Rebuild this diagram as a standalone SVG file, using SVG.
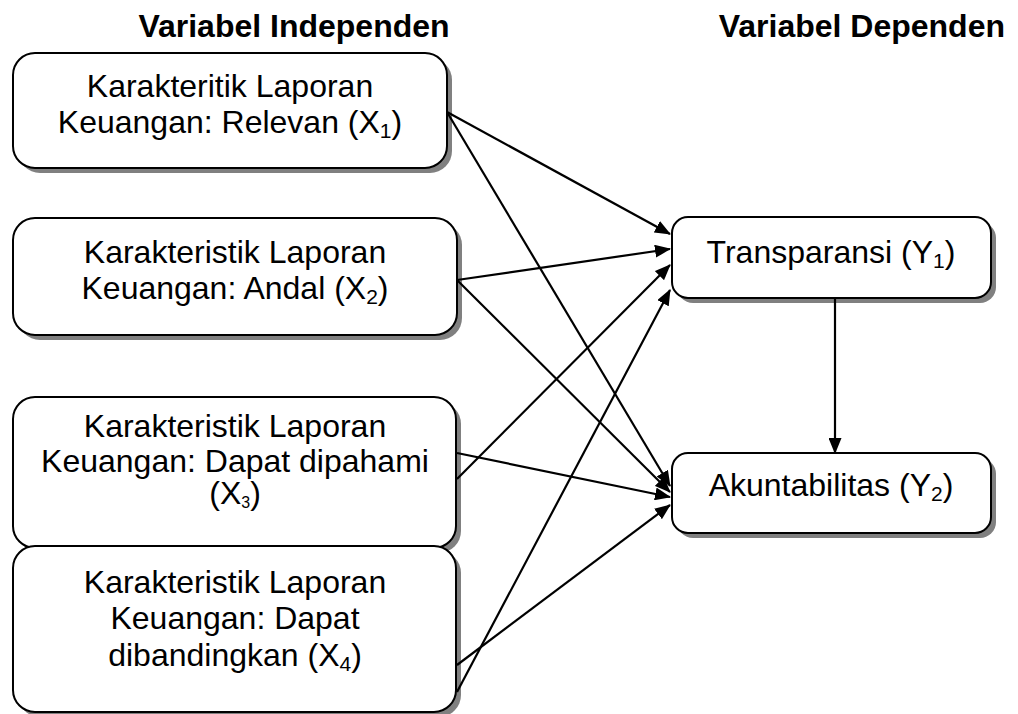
<svg xmlns="http://www.w3.org/2000/svg" width="1018" height="714" viewBox="0 0 1018 714">
<style>
.box{fill:#fff;stroke:#000;stroke-width:2}
.sh{fill:#808080;stroke:none}
.t{font-family:"Liberation Sans",Arial,sans-serif;font-size:32px;fill:#000;text-anchor:middle}
.h{font-family:"Liberation Sans",Arial,sans-serif;font-size:32px;font-weight:bold;fill:#000}
.c{stroke:#000;stroke-width:2.2;fill:none;marker-end:url(#ah)}
</style>
<defs>
<marker id="ah" markerUnits="userSpaceOnUse" markerWidth="16" markerHeight="13" refX="15" refY="6.5" orient="auto">
<path d="M0,0 L16,6.5 L0,13 z" fill="#000"/>
</marker>
</defs>
<text class="h" x="294" y="37" text-anchor="middle">Variabel Independen</text>
<text class="h" x="1005" y="37" text-anchor="end">Variabel Dependen</text>
<g id="x1">
<rect class="sh" x="18" y="58" width="434" height="115" rx="22"/>
<rect class="box" x="13" y="53" width="434" height="115" rx="22"/>
<text class="t" x="230" y="97">Karakteritik Laporan</text>
<text class="t" x="230" y="133">Keuangan: Relevan (X<tspan font-size="21" dy="5">1</tspan><tspan dy="-5">)</tspan></text>
</g>
<g id="x2">
<rect class="sh" x="18" y="223" width="444" height="117" rx="22"/>
<rect class="box" x="13" y="218" width="444" height="117" rx="22"/>
<text class="t" x="235" y="263">Karakteristik Laporan</text>
<text class="t" x="235" y="299">Keuangan: Andal (X<tspan font-size="21" dy="5">2</tspan><tspan dy="-5">)</tspan></text>
</g>
<g id="x3">
<rect class="sh" x="18" y="402" width="443" height="151" rx="22"/>
<rect class="box" x="13" y="397" width="443" height="151" rx="22"/>
<text class="t" x="235" y="437">Karakteristik Laporan</text>
<text class="t" x="235" y="472">Keuangan: Dapat dipahami</text>
<text class="t" x="235" y="504" font-size="24">(X<tspan font-size="16" dy="4">3</tspan><tspan dy="-4">)</tspan></text>
</g>
<g id="x4">
<rect class="sh" x="18" y="551" width="443" height="166" rx="22"/>
<rect class="box" x="13" y="546" width="443" height="166" rx="22"/>
<text class="t" x="235" y="593">Karakteristik Laporan</text>
<text class="t" x="235" y="629">Keuangan: Dapat</text>
<text class="t" x="235" y="666">dibandingkan (X<tspan font-size="21" dy="5">4</tspan><tspan dy="-5">)</tspan></text>
</g>
<g id="y1">
<rect class="sh" x="677" y="222" width="319" height="81" rx="16"/>
<rect class="box" x="672" y="217" width="319" height="81" rx="16"/>
<text class="t" x="831" y="263">Transparansi (Y<tspan font-size="21" dy="5">1</tspan><tspan dy="-5">)</tspan></text>
</g>
<g id="y2">
<rect class="sh" x="677" y="458" width="319" height="80" rx="16"/>
<rect class="box" x="672" y="453" width="319" height="80" rx="16"/>
<text class="t" x="831" y="496">Akuntabilitas (Y<tspan font-size="21" dy="5">2</tspan><tspan dy="-5">)</tspan></text>
</g>
<g id="connectors">
<line class="c" x1="447" y1="112" x2="670" y2="234"/>
<line class="c" x1="447" y1="112" x2="670" y2="486"/>
<line class="c" x1="457" y1="280" x2="670" y2="249"/>
<line class="c" x1="457" y1="280" x2="670" y2="492"/>
<line class="c" x1="457" y1="479" x2="670" y2="265"/>
<line class="c" x1="457" y1="453" x2="670" y2="497"/>
<line class="c" x1="457" y1="692" x2="670" y2="290"/>
<line class="c" x1="457" y1="665" x2="670" y2="505"/>
<line class="c" x1="835" y1="298" x2="835" y2="453"/>
</g>
</svg>
